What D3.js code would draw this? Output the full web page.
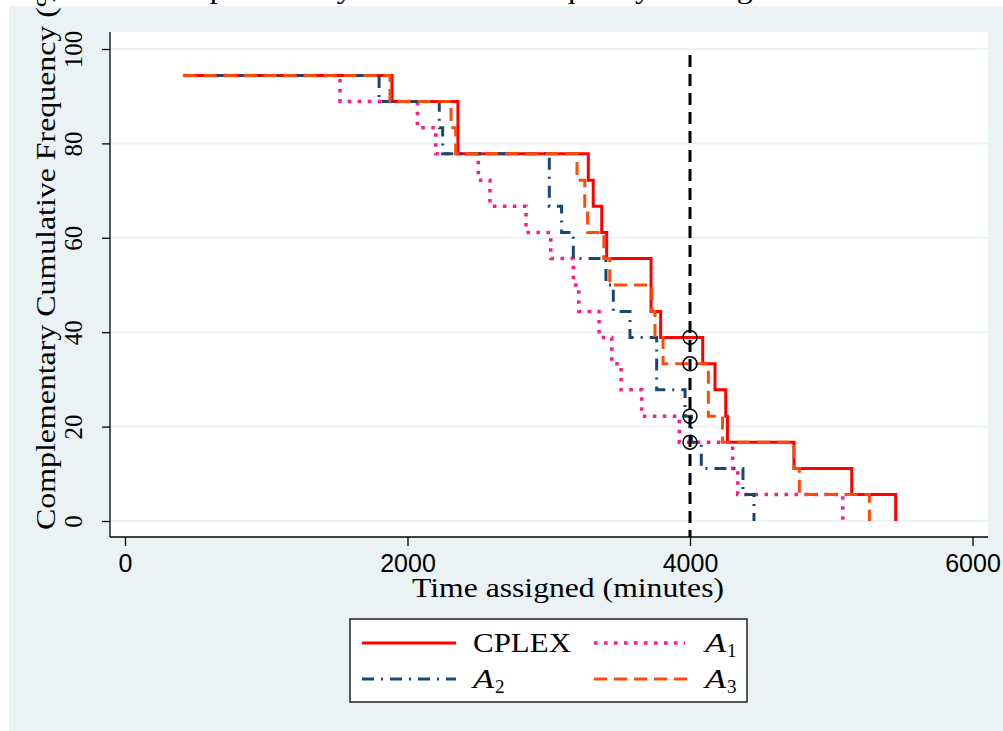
<!DOCTYPE html>
<html><head><meta charset="utf-8">
<script src="https://cdn.jsdelivr.net/npm/d3@7"></script>
<style>html,body{margin:0;padding:0;background:#fff;overflow:hidden} svg{display:block}</style>
</head><body><svg id="chart" width="1003" height="731"></svg>
<script>
// ---- data (time in minutes, complementary cumulative frequency in %) ----
const cplexTime  = [415, 1890, 2357, 3280, 3315, 3375, 3410, 3724, 3792, 4090, 4177, 4253, 4265, 4736, 5145, 5456];
const cplexValue = [94.4, 88.9, 77.8, 72.2, 66.7, 61.1, 55.6, 44.4, 38.9, 33.3, 27.8, 22.2, 16.7, 11.1, 5.6, 0];
const a1Time  = [415, 1522, 2070, 2200, 2501, 2584, 2839, 3014, 3174, 3212, 3356, 3446, 3512, 3658, 3924, 4302, 4338, 5081];
const a1Value = [94.4, 88.9, 83.3, 77.8, 72.2, 66.7, 61.1, 55.6, 50, 44.4, 38.9, 33.3, 27.8, 22.2, 16.7, 11.1, 5.6, 0];
const a2Time  = [415, 1799, 2225, 2249, 3004, 3091, 3174, 3405, 3457, 3575, 3764, 3965, 4010, 4080, 4375, 4453];
const a2Value = [94.4, 88.9, 83.3, 77.8, 66.7, 61.1, 55.6, 50, 44.4, 38.9, 27.8, 22.2, 16.7, 11.1, 5.6, 0];
const a3Time  = [415, 1876, 2308, 2341, 3200, 3255, 3275, 3390, 3432, 3730, 3752, 3809, 4130, 4230, 4736, 4774, 5270];
const a3Value = [94.4, 88.9, 83.3, 77.8, 72.2, 66.7, 61.1, 55.6, 50, 44.4, 38.9, 33.3, 22.2, 16.7, 11.1, 5.6, 0];
const seriesNames = ["CPLEX", "A1", "A2", "A3"];
const xTicks = [0, 2000, 4000, 6000];
const yTicks = [0, 20, 40, 60, 80, 100];
const cutoffTime = 4000;
const titleText = "Complementary Cumulative Frequency of Large Instances";
const xTitle = "Time assigned (minutes)";
const yTitle = "Complementary Cumulative Frequency (%)";

// ---- styles ----
const styles = {
  CPLEX: {color: "#ff0000", dash: null, width: 3, cap: "butt"},
  A1:    {color: "#ff1a8c", dash: "3.5,6.5", width: 3.5, cap: "butt"},
  A2:    {color: "#1a476f", dash: "12,7,2,7", width: 3, cap: "butt"},
  A3:    {color: "#ff4a0a", dash: "13,7", width: 3, cap: "butt"}
};
const serif = "'Liberation Serif','Times New Roman',serif";
const sans = "'Liberation Sans',Arial,sans-serif";

const W = 1003, H = 731;
const svg = d3.select("#chart");
const plot = {left: 110, right: 988, top: 32, bottom: 537};

// graph region background
svg.append("rect").attr("x", 9).attr("y", 6).attr("width", W - 9).attr("height", H - 6).attr("fill", "#eaf2f3");

// clipped title (only descenders visible, as in the reference)
svg.append("text").attr("x", 148).attr("y", -2)
  .attr("textLength", 745).attr("lengthAdjust", "spacingAndGlyphs")
  .style("font-family", serif).style("font-size", "28px").attr("fill", "#000").text(titleText);

// plot region
svg.append("rect").attr("x", plot.left).attr("y", plot.top)
  .attr("width", plot.right - plot.left).attr("height", plot.bottom - plot.top).attr("fill", "#fff");

const x = d3.scaleLinear().domain([0, 6000]).range([125, 972.5]);
const y = d3.scaleLinear().domain([0, 100]).range([521, 49]);

// gridlines
svg.append("g").selectAll("line").data(yTicks).join("line")
  .attr("x1", plot.left).attr("x2", plot.right)
  .attr("y1", d => y(d)).attr("y2", d => y(d))
  .attr("stroke", "#eaf2f3").attr("stroke-width", 2);

// axes
const gy = svg.append("g").attr("transform", `translate(${plot.left},0)`)
  .call(d3.axisLeft(y).tickValues(yTicks).tickFormat(d3.format("d")).tickSize(8).tickSizeOuter(0));
gy.select(".domain").remove();
gy.selectAll(".tick line").attr("stroke", "#000").attr("stroke-width", 1.3);
gy.selectAll(".tick text").attr("transform", "rotate(-90)").attr("x", 0).attr("y", -28).attr("dy", null)
  .attr("text-anchor", "middle").style("font-family", serif).style("font-size", "25px").attr("fill", "#000");

const gx = svg.append("g").attr("transform", `translate(0,${plot.bottom})`)
  .call(d3.axisBottom(x).tickValues(xTicks).tickFormat(d3.format("d")).tickSize(9).tickSizeOuter(0));
gx.select(".domain").remove();
gx.selectAll(".tick line").attr("stroke", "#000").attr("stroke-width", 1.3);
gx.selectAll(".tick text").attr("y", 35).attr("dy", null)
  .style("font-family", sans).style("font-size", "25px").attr("fill", "#000");

svg.append("line").attr("x1", plot.left).attr("x2", plot.left).attr("y1", plot.top).attr("y2", plot.bottom)
  .attr("stroke", "#000").attr("stroke-width", 1.3);
svg.append("line").attr("x1", plot.left).attr("x2", plot.right).attr("y1", plot.bottom).attr("y2", plot.bottom)
  .attr("stroke", "#000").attr("stroke-width", 1.3);

// axis titles
svg.append("text").attr("x", 412).attr("y", 597).attr("textLength", 312).attr("lengthAdjust", "spacingAndGlyphs")
  .style("font-family", serif).style("font-size", "28px").attr("fill", "#000").text(xTitle);
svg.append("text").attr("transform", "translate(55,530) rotate(-90)")
  .attr("textLength", 560).attr("lengthAdjust", "spacingAndGlyphs")
  .style("font-family", serif).style("font-size", "28px").attr("fill", "#000").text(yTitle);

// series
const series = [
  {name: "CPLEX", pts: cplexTime.map((t, i) => ({t, v: cplexValue[i]}))},
  {name: "A1", pts: a1Time.map((t, i) => ({t, v: a1Value[i]}))},
  {name: "A2", pts: a2Time.map((t, i) => ({t, v: a2Value[i]}))},
  {name: "A3", pts: a3Time.map((t, i) => ({t, v: a3Value[i]}))}
];
const line = d3.line().x(d => x(d.t)).y(d => y(d.v)).curve(d3.curveStepAfter);

series.forEach(s => {
  const st = styles[s.name];
  svg.append("path").attr("d", line(s.pts)).attr("fill", "none")
    .attr("stroke", st.color).attr("stroke-width", st.width)
    .attr("stroke-dasharray", st.dash).attr("stroke-linecap", st.cap).attr("stroke-linejoin", "miter");
});

// vertical cutoff line
svg.append("line").attr("x1", x(cutoffTime)).attr("x2", x(cutoffTime))
  .attr("y1", plot.top + 23).attr("y2", plot.bottom)
  .attr("stroke", "#000").attr("stroke-width", 3).attr("stroke-dasharray", "12,7");

// circles at cutoff
const bis = d3.bisector(d => d.t).right;
const atCut = series.map(s => s.pts[bis(s.pts, cutoffTime) - 1].v);
svg.append("g").selectAll("circle").data(atCut).join("circle")
  .attr("cx", x(cutoffTime)).attr("cy", d => y(d)).attr("r", 7)
  .attr("fill", "none").attr("stroke", "#000").attr("stroke-width", 1.5);

// legend
const lg = svg.append("g");
lg.append("rect").attr("x", 350).attr("y", 619).attr("width", 397).attr("height", 83)
  .attr("fill", "#fff").attr("stroke", "#000").attr("stroke-width", 1.3);
const legendItems = [
  {name: "CPLEX", lx: 362, ly: 643, len: 94, tx: 473},
  {name: "A1", lx: 594, ly: 643, len: 91, tx: 705},
  {name: "A2", lx: 362, ly: 679, len: 94, tx: 473},
  {name: "A3", lx: 594, ly: 679, len: 94, tx: 705}
];
legendItems.forEach(it => {
  const st = styles[it.name];
  lg.append("line").attr("x1", it.lx).attr("x2", it.lx + it.len).attr("y1", it.ly).attr("y2", it.ly)
    .attr("stroke", st.color).attr("stroke-width", st.width).attr("stroke-dasharray", st.dash);
  const base = it.ly + 9;
  if (it.name === "CPLEX") {
    lg.append("text").attr("x", it.tx).attr("y", base).attr("textLength", 98).attr("lengthAdjust", "spacingAndGlyphs")
      .style("font-family", serif).style("font-size", "28px").attr("fill", "#000").text("CPLEX");
  } else {
    lg.append("text").attr("x", it.tx).attr("y", base).attr("textLength", 21).attr("lengthAdjust", "spacingAndGlyphs")
      .style("font-family", serif).style("font-size", "28px").style("font-style", "italic").attr("fill", "#000").text("A");
    lg.append("text").attr("x", it.tx + 22).attr("y", base + 5)
      .style("font-family", serif).style("font-size", "19px").attr("fill", "#000").text(it.name.slice(1));
  }
});
</script></body></html>
